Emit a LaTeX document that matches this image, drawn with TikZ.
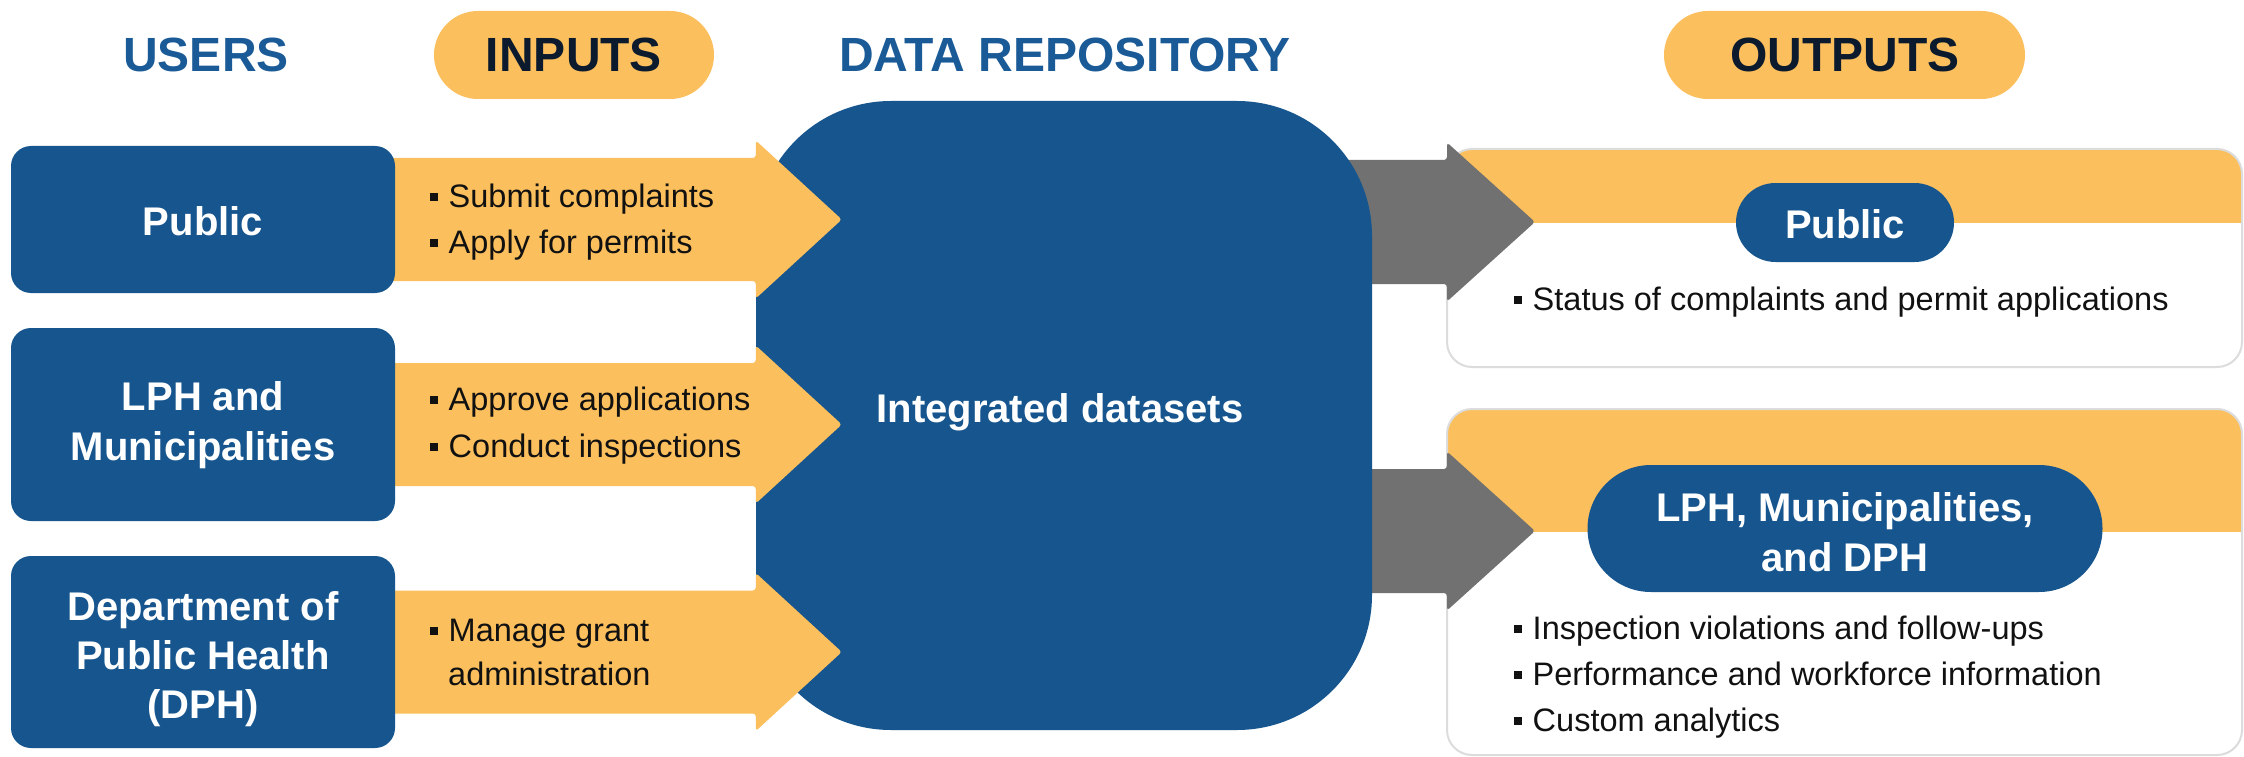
\documentclass[tikz,border=0pt]{standalone}
\usepackage{fontspec}
\setmainfont{Liberation Sans}
\usetikzlibrary{calc}
\pgfdeclarelayer{back}
\pgfdeclarelayer{mid}
\pgfdeclarelayer{front}
\pgfsetlayers{back,mid,main,front}
\definecolor{blueC}{HTML}{16558E}
\definecolor{headC}{HTML}{1A5A97}
\definecolor{yelC}{HTML}{FBBF5D}
\definecolor{grayC}{HTML}{717171}
\definecolor{navyC}{HTML}{0C1A2E}
\definecolor{borderC}{HTML}{DCDCDC}
\definecolor{txtC}{HTML}{111111}
\newcommand\bul{\raisebox{0.19em}{\rule{0.24em}{0.24em}}\hspace{0.33em}}
\tikzset{
  bt/.style={inner sep=0, font=\fontsize{32.5}{39}\selectfont, text=txtC},
  tt/.style={inner sep=0, font=\bfseries\fontsize{40}{48}\selectfont, text=white},
  ht/.style={inner sep=0, font=\bfseries\fontsize{48}{58}\selectfont},
  userbox/.style={fill=blueC, rounded corners=20pt, inner sep=0, minimum width=384pt},
  pillbox/.style={inner sep=0, draw=none},
  outbox/.style={draw=borderC, line width=2pt, rounded corners=25pt, inner sep=0, minimum width=795pt},
  inarr/.style={fill=yelC, rounded corners=3pt},
  outarr/.style={fill=grayC, rounded corners=3pt},
}
\newcommand\inarrow[2]{%
  \fill[inarr] let \p1=(#1.east), \p2=(#2.west) in
   (\x1-15pt,\y1+61.5pt) -- (\x2,\y1+61.5pt) -- (\x2,\y1+79pt) -- (\x2+86pt,\y1)
   -- (\x2,\y1-79pt) -- (\x2,\y1-61.5pt) -- (\x1-15pt,\y1-61.5pt) -- cycle;}
\newcommand\outarrow[2]{%
  \fill[outarr] let \p1=(#1.east), \p2=(#2) in
   (\x1-80pt,\y2+62pt) -- (\x2,\y2+62pt) -- (\x2,\y2+79.5pt) -- (\x2+88pt,\y2)
   -- (\x2,\y2-79.5pt) -- (\x2,\y2-62pt) -- (\x1-80pt,\y2-62pt) -- cycle;}
\begin{document}
\begin{tikzpicture}[x=1pt,y=-1pt]
\begin{pgfonlayer}{back}
\useasboundingbox[fill=white] (0,0) rectangle (2244,757);
% output boxes (yellow top bands)
\begin{scope}
\clip (1440,140) rectangle (2244,222);
\fill[yelC, rounded corners=25pt] (1447,149) rectangle (2242,367);
\end{scope}
\begin{scope}
\clip (1440,400) rectangle (2244,531);
\fill[yelC, rounded corners=25pt] (1447,409) rectangle (2242,755);
\end{scope}
\node[outbox, minimum height=218pt] (ob1) at (1844.5,258) {};
\node[outbox, minimum height=346pt] (ob2) at (1844.5,582) {};
\end{pgfonlayer}
\coordinate (g1) at (1447,222);
\coordinate (g2) at (1447,531);

% repository
\node[fill=blueC, rounded corners=135pt, minimum width=616pt, minimum height=629pt, inner sep=0] (repo) at (1064,415.5) {};

% gray output arrows (under the repository)
\begin{pgfonlayer}{mid}
\outarrow{repo}{g1}
\outarrow{repo}{g2}
\end{pgfonlayer}

% user boxes
\begin{pgfonlayer}{front}
\node[userbox, minimum height=147pt] (pub) at (203,219.5) {};
\node[userbox, minimum height=193pt] (lph) at (203,424.5) {};
\node[userbox, minimum height=192pt] (dph) at (203,652) {};
\end{pgfonlayer}

% yellow input arrows (over the repository, under the user boxes)
\inarrow{pub}{repo}
\inarrow{lph}{repo}
\inarrow{dph}{repo}

\begin{pgfonlayer}{front}
% header pills
\node[pillbox, fill=yelC, minimum width=280pt, minimum height=88pt, rounded corners=44pt] (inp) at (574,55) {};
\node[pillbox, fill=yelC, minimum width=361pt, minimum height=88pt, rounded corners=44pt] (outp) at (1844.5,55) {};
\node[pillbox, fill=blueC, minimum width=218pt, minimum height=79pt, rounded corners=39.5pt] (opub) at (1845,222.5) {};
\node[pillbox, fill=blueC, minimum width=515pt, minimum height=127pt, rounded corners=63.5pt] (olph) at (1845,528.5) {};

% headers
\node[ht, text=headC, anchor=base] (hUsers) at (206,72) {USERS};
\node[ht, text=navyC, anchor=base] (hIn) at (574,72) {INPUTS};
\node[ht, text=headC, anchor=base] (hRepo) at (1065,72) {DATA REPOSITORY};
\node[ht, text=navyC, anchor=base] (hOut) at (1845,72) {OUTPUTS};

% user labels
\node[tt, anchor=base] (t1) at (203,235) {Public};
\node[tt, anchor=base] (t2a) at (203,410) {LPH and};
\node[tt, anchor=base] (t2b) at (203,460) {Municipalities};
\node[tt, anchor=base] (t3a) at (203,620) {Department of};
\node[tt, anchor=base] (t3b) at (203,669) {Public Health};
\node[tt, anchor=base] (t3c) at (203,718) {(DPH)};

% input bullets
\node[bt, anchor=base west] (i1a) at (430,207) {\bul Submit complaints};
\node[bt, anchor=base west] (i1b) at (430,253) {\bul Apply for permits};
\node[bt, anchor=base west] (i2a) at (430,410) {\bul Approve applications};
\node[bt, anchor=base west] (i2b) at (430,457) {\bul Conduct inspections};
\node[bt, anchor=base west] (i3a) at (430,641) {\bul Manage grant};
\node[bt, anchor=base west] (i3b) at (448,685) {administration};

% repository label
\node[tt, anchor=base] (rl) at (1060,422) {Integrated datasets};

% output labels
\node[tt, anchor=base] (o1) at (1845,238) {Public};
\node[tt, anchor=base] (o2a) at (1845,521) {LPH, Municipalities,};
\node[tt, anchor=base] (o2b) at (1845,571) {and DPH};

% output bullets
\node[bt, anchor=base west] (b1) at (1514,310) {\bul Status of complaints and permit applications};
\node[bt, anchor=base west] (b2a) at (1514,639) {\bul Inspection violations and follow-ups};
\node[bt, anchor=base west] (b2b) at (1514,685) {\bul Performance and workforce information};
\node[bt, anchor=base west] (b2c) at (1514,731) {\bul Custom analytics};
\end{pgfonlayer}
\end{tikzpicture}
\end{document}
